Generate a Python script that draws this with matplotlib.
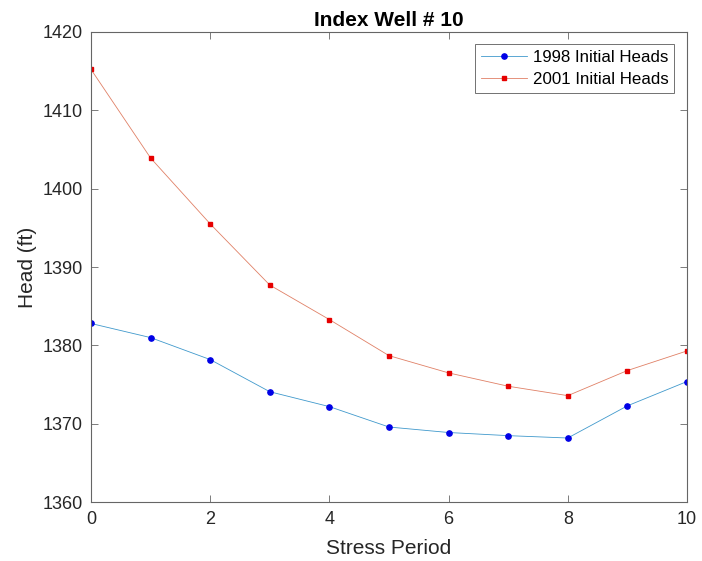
import matplotlib
matplotlib.use("Agg")
import matplotlib.pyplot as plt

plt.rcParams['font.family'] = ['Liberation Sans', 'DejaVu Sans']

stress_period = [0, 1, 2, 3, 4, 5, 6, 7, 8, 9, 10]
heads_1998 = [1382.8, 1381.0, 1378.2, 1374.1, 1372.2, 1369.6, 1368.9, 1368.5, 1368.2, 1372.3, 1375.4]
heads_2001 = [1415.2, 1403.9, 1395.5, 1387.7, 1383.3, 1378.7, 1376.5, 1374.8, 1373.6, 1376.8, 1379.3]

fig = plt.figure(figsize=(7.02, 5.61), dpi=100)
ax = fig.add_axes([0.1296, 0.1046, 0.8490, 0.8389])

ax.plot(stress_period, heads_1998, color=(0.25, 0.6, 0.8), lw=0.6,
        marker='o', ms=3.8, mfc=(0, 0, 0.9), mec=(0, 0, 0.9), label='1998 Initial Heads')
ax.plot(stress_period, heads_2001, color=(0.88, 0.5, 0.4), lw=0.6,
        marker='s', ms=3.2, mfc=(0.9, 0, 0), mec=(0.9, 0, 0), label='2001 Initial Heads')

ax.set_xlim(0, 10)
ax.set_ylim(1360, 1420)
ax.set_xticks(range(0, 11, 2))
ax.set_yticks(range(1360, 1421, 10))

grey = (0.15, 0.15, 0.15)
for s in ax.spines.values():
    s.set_color('0.4')
    s.set_linewidth(0.8)
ax.tick_params(direction='in', top=True, right=True, length=5, width=0.6,
               color='0.4', labelsize=13, labelcolor=grey, pad=6)

ax.set_title('Index Well # 10', fontsize=15, fontweight='bold', pad=4)
ax.set_xlabel('Stress Period', fontsize=15, color=grey, labelpad=8)
ax.set_ylabel('Head (ft)', fontsize=15, color=grey, labelpad=4)

leg = ax.legend(loc='upper right', fontsize=12.2, frameon=True, fancybox=False,
                edgecolor='0.3', borderpad=0.35, handlelength=2.7, handletextpad=0.35,
                labelspacing=0.4, borderaxespad=0.75)
leg.get_frame().set_linewidth(0.7)

fig.savefig('out.png', dpi=100)
plt.close(fig)
